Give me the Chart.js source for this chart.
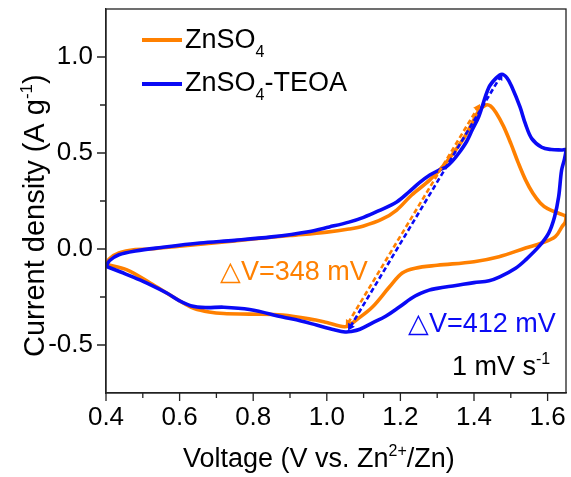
<!DOCTYPE html>
<html>
<head>
<meta charset="utf-8">
<script src="https://cdn.jsdelivr.net/npm/chart.js@4"></script>
<style>
  html, body { margin: 0; padding: 0; background: #fff; }
  #wrap { width: 571px; height: 477px; position: relative; }
</style>
</head>
<body>
<div id="wrap"><canvas id="c" width="571" height="477"></canvas></div>
<script>
// ---- Data ----
const seriesNames = ['ZnSO4', 'ZnSO4-TEOA'];

const orangeV = [0.40,0.41,0.435,0.48,0.52,0.60,0.70,0.80,0.90,1.00,1.06,1.10,1.15,1.19,1.23,1.28,1.324,1.37,1.395,1.413,1.432,1.445,1.46,1.48,1.50,1.52,1.54,1.56,1.58,1.60,1.63,1.645,1.65,
                 1.648,1.639,1.621,1.584,1.54,1.468,1.40,1.30,1.24,1.205,1.17,1.124,1.08,1.06,1.048,1.00,0.97,0.88,0.79,0.72,0.68,0.64,0.61,0.57,0.52,0.457,0.40];
const orangeI = [-0.08,-0.05,-0.021,-0.003,0.0,0.015,0.033,0.052,0.07,0.088,0.104,0.12,0.155,0.203,0.28,0.36,0.45,0.57,0.656,0.72,0.75,0.745,0.71,0.64,0.55,0.45,0.36,0.29,0.24,0.21,0.186,0.175,0.17,
                 0.14,0.116,0.064,0.031,0.005,-0.04,-0.066,-0.085,-0.10,-0.125,-0.198,-0.302,-0.37,-0.398,-0.405,-0.383,-0.37,-0.344,-0.339,-0.336,-0.328,-0.31,-0.281,-0.235,-0.177,-0.109,-0.08];

const blueV = [0.40,0.41,0.435,0.48,0.55,0.655,0.75,0.85,0.95,1.007,1.06,1.10,1.14,1.19,1.225,1.251,1.28,1.305,1.324,1.34,1.359,1.38,1.395,1.413,1.44,1.46,1.476,1.49,1.503,1.525,1.54,1.557,1.584,1.61,1.638,1.65,
               1.646,1.638,1.630,1.619,1.603,1.576,1.54,1.513,1.47,1.441,1.40,1.351,1.30,1.278,1.24,1.197,1.16,1.124,1.09,1.065,1.05,1.02,0.972,0.93,0.88,0.79,0.72,0.67,0.63,0.60,0.565,0.492,0.44,0.40];
const blueI = [-0.09,-0.06,-0.03,-0.01,0.008,0.031,0.045,0.063,0.09,0.115,0.14,0.165,0.198,0.245,0.30,0.344,0.385,0.411,0.427,0.455,0.50,0.56,0.62,0.69,0.84,0.89,0.91,0.89,0.844,0.74,0.65,0.575,0.53,0.518,0.516,0.516,
               0.47,0.41,0.272,0.168,0.083,0.012,-0.057,-0.10,-0.145,-0.165,-0.175,-0.19,-0.205,-0.214,-0.245,-0.302,-0.35,-0.385,-0.418,-0.43,-0.432,-0.42,-0.396,-0.375,-0.354,-0.315,-0.303,-0.305,-0.295,-0.27,-0.229,-0.161,-0.12,-0.09];

// peak-to-peak separation arrows (lower end, upper end)
const orangeArrowV = [1.058, 1.410];
const orangeArrowI = [-0.385, 0.735];
const blueArrowV = [1.064, 1.471];
const blueArrowI = [-0.405, 0.895];

// annotations
const orangeNote = '\u25B3V=348 mV';
const blueNote = '\u25B3V=412 mV';
const rateNote = ['1 mV s', '-1'];

// ticks
const xTickValues = [0.4, 0.6, 0.8, 1.0, 1.2, 1.4, 1.6];
const xTickLabels = ['0.4', '0.6', '0.8', '1.0', '1.2', '1.4', '1.6'];
const xMinorTicks = [0.5, 0.7, 0.9, 1.1, 1.3, 1.5];
const yTickValues = [-0.5, 0.0, 0.5, 1.0];
const yTickLabels = ['-0.5', '0.0', '0.5', '1.0'];
const yMinorTicks = [-0.25, 0.25, 0.75];

const ORANGE = '#FF8000';
const BLUE = '#0A0AF5';
const FONT = "'Liberation Sans', Arial, Helvetica, sans-serif";

const zip = (xs, ys) => xs.map((x, i) => ({ x: x, y: ys[i] }));

function arrowRotation(ctx) {
  const c = ctx.chart, ds = ctx.dataset;
  const xs = c.scales.x, ys = c.scales.y;
  const a = ds.data[0], b = ds.data[1];
  const dx = xs.getPixelForValue(b.x) - xs.getPixelForValue(a.x);
  const dy = ys.getPixelForValue(b.y) - ys.getPixelForValue(a.y);
  const ang = Math.atan2(dx, -dy) * 180 / Math.PI;
  return ctx.dataIndex === 1 ? ang : ang + 180;
}

function drawSubText(ctx, x, y, parts, size) {
  let cx = x;
  parts.forEach(p => {
    const small = p[1] !== 'n';
    const fs = small ? Math.round(size * 0.58) : size;
    ctx.font = fs + 'px ' + FONT;
    let yy = y;
    if (p[1] === 'sub') yy = y + size * 0.33;
    if (p[1] === 'sup') yy = y - size * 0.42;
    ctx.fillText(p[0], cx, yy);
    cx += ctx.measureText(p[0]).width;
  });
  return cx;
}

const decorPlugin = {
  id: 'decor',
  afterDraw(chart) {
    const ctx = chart.ctx;
    const area = chart.chartArea;
    const xs = chart.scales.x, ys = chart.scales.y;
    ctx.save();
    ctx.strokeStyle = '#222';
    ctx.lineWidth = 1.3;
    ctx.strokeRect(area.left, area.top, area.right - area.left, area.bottom - area.top);
    ctx.beginPath();
    xTickValues.forEach(v => { const p = xs.getPixelForValue(v); ctx.moveTo(p, area.bottom); ctx.lineTo(p, area.bottom + 8); });
    xMinorTicks.forEach(v => { const p = xs.getPixelForValue(v); ctx.moveTo(p, area.bottom); ctx.lineTo(p, area.bottom + 5); });
    yTickValues.forEach(v => { const p = ys.getPixelForValue(v); ctx.moveTo(area.left, p); ctx.lineTo(area.left - 9, p); });
    yMinorTicks.forEach(v => { const p = ys.getPixelForValue(v); ctx.moveTo(area.left, p); ctx.lineTo(area.left - 6, p); });
    ctx.stroke();

    ctx.textBaseline = 'alphabetic';
    ctx.textAlign = 'left';
    ctx.lineWidth = 4;
    ctx.lineCap = 'butt';
    ctx.strokeStyle = ORANGE;
    ctx.beginPath(); ctx.moveTo(142, 40); ctx.lineTo(182, 40); ctx.stroke();
    ctx.strokeStyle = BLUE;
    ctx.beginPath(); ctx.moveTo(142, 84); ctx.lineTo(182, 84); ctx.stroke();
    ctx.fillStyle = '#000';
    drawSubText(ctx, 185, 48, [['ZnSO', 'n'], ['4', 'sub']], 27);
    drawSubText(ctx, 185, 91, [['ZnSO', 'n'], ['4', 'sub'], ['-TEOA', 'n']], 27);

    ctx.font = '27px ' + FONT;
    ctx.fillStyle = ORANGE;
    ctx.fillText(orangeNote, 220, 280);
    ctx.fillStyle = BLUE;
    ctx.fillText(blueNote, 408, 332);
    ctx.fillStyle = '#000';
    drawSubText(ctx, 452, 375, [[rateNote[0], 'n'], [rateNote[1], 'sup']], 27);

    drawSubText(ctx, 183, 467, [['Voltage (V vs. Zn', 'n'], ['2+', 'sup'], ['/Zn)', 'n']], 27);

    ctx.translate(44, 357);
    ctx.rotate(-Math.PI / 2);
    drawSubText(ctx, 0, 0, [['Current density (A g', 'n'], ['-1', 'sup'], [')', 'n']], 29);
    ctx.restore();
  }
};

function noPad(s) { s.paddingTop = 0; s.paddingBottom = 0; s.paddingLeft = 0; s.paddingRight = 0; }

const chart = new Chart(document.getElementById('c'), {
  type: 'scatter',
  data: {
    datasets: [
      {
        label: 'orange arrow',
        data: zip(orangeArrowV, orangeArrowI),
        showLine: true,
        borderColor: ORANGE,
        backgroundColor: ORANGE,
        borderWidth: 2.6,
        borderDash: [5, 3],
        pointStyle: 'triangle',
        pointRadius: 4.5,
        pointBorderWidth: 0,
        pointBackgroundColor: ORANGE,
        pointRotation: arrowRotation,
        order: 1
      },
      {
        label: 'blue arrow',
        data: zip(blueArrowV, blueArrowI),
        showLine: true,
        borderColor: BLUE,
        backgroundColor: BLUE,
        borderWidth: 2.6,
        borderDash: [5, 3],
        pointStyle: 'triangle',
        pointRadius: 4.5,
        pointBorderWidth: 0,
        pointBackgroundColor: BLUE,
        pointRotation: arrowRotation,
        order: 0
      },
      {
        label: seriesNames[1],
        data: zip(blueV, blueI),
        showLine: true,
        borderColor: BLUE,
        borderWidth: 3.6,
        pointRadius: 0,
        tension: 0.35,
        order: 2
      },
      {
        label: seriesNames[0],
        data: zip(orangeV, orangeI),
        showLine: true,
        borderColor: ORANGE,
        borderWidth: 3.6,
        pointRadius: 0,
        tension: 0.35,
        order: 3
      }
    ]
  },
  options: {
    responsive: false,
    animation: false,
    events: [],
    layout: { padding: { top: 9, right: 5, left: 0, bottom: 0 } },
    plugins: { legend: { display: false }, tooltip: { enabled: false }, title: { display: false } },
    scales: {
      x: {
        type: 'linear',
        min: 0.4,
        max: 1.65,
        afterBuildTicks: s => { s.ticks = xTickValues.map(v => ({ value: v })); },
        afterFit: s => { s.height = 84; noPad(s); },
        ticks: {
          autoSkip: false,
          maxRotation: 0,
          padding: 9,
          color: '#000',
          font: { size: 26, family: FONT },
          callback: (v) => { const i = xTickValues.findIndex(t => Math.abs(t - v) < 1e-6); return i >= 0 ? xTickLabels[i] : ''; }
        },
        grid: { display: true, drawOnChartArea: false, drawTicks: false },
        border: { display: true, color: '#222', width: 1.3 }
      },
      y: {
        type: 'linear',
        min: -0.75,
        max: 1.25,
        afterBuildTicks: s => { s.ticks = yTickValues.map(v => ({ value: v })); },
        afterFit: s => { s.width = 106; noPad(s); },
        ticks: {
          autoSkip: false,
          padding: 13,
          color: '#000',
          font: { size: 26, family: FONT },
          callback: (v) => { const i = yTickValues.findIndex(t => Math.abs(t - v) < 1e-6); return i >= 0 ? yTickLabels[i] : ''; }
        },
        grid: { display: true, drawOnChartArea: false, drawTicks: false },
        border: { display: true, color: '#222', width: 1.3 }
      }
    }
  },
  plugins: [decorPlugin]
});
</script>
</body>
</html>
